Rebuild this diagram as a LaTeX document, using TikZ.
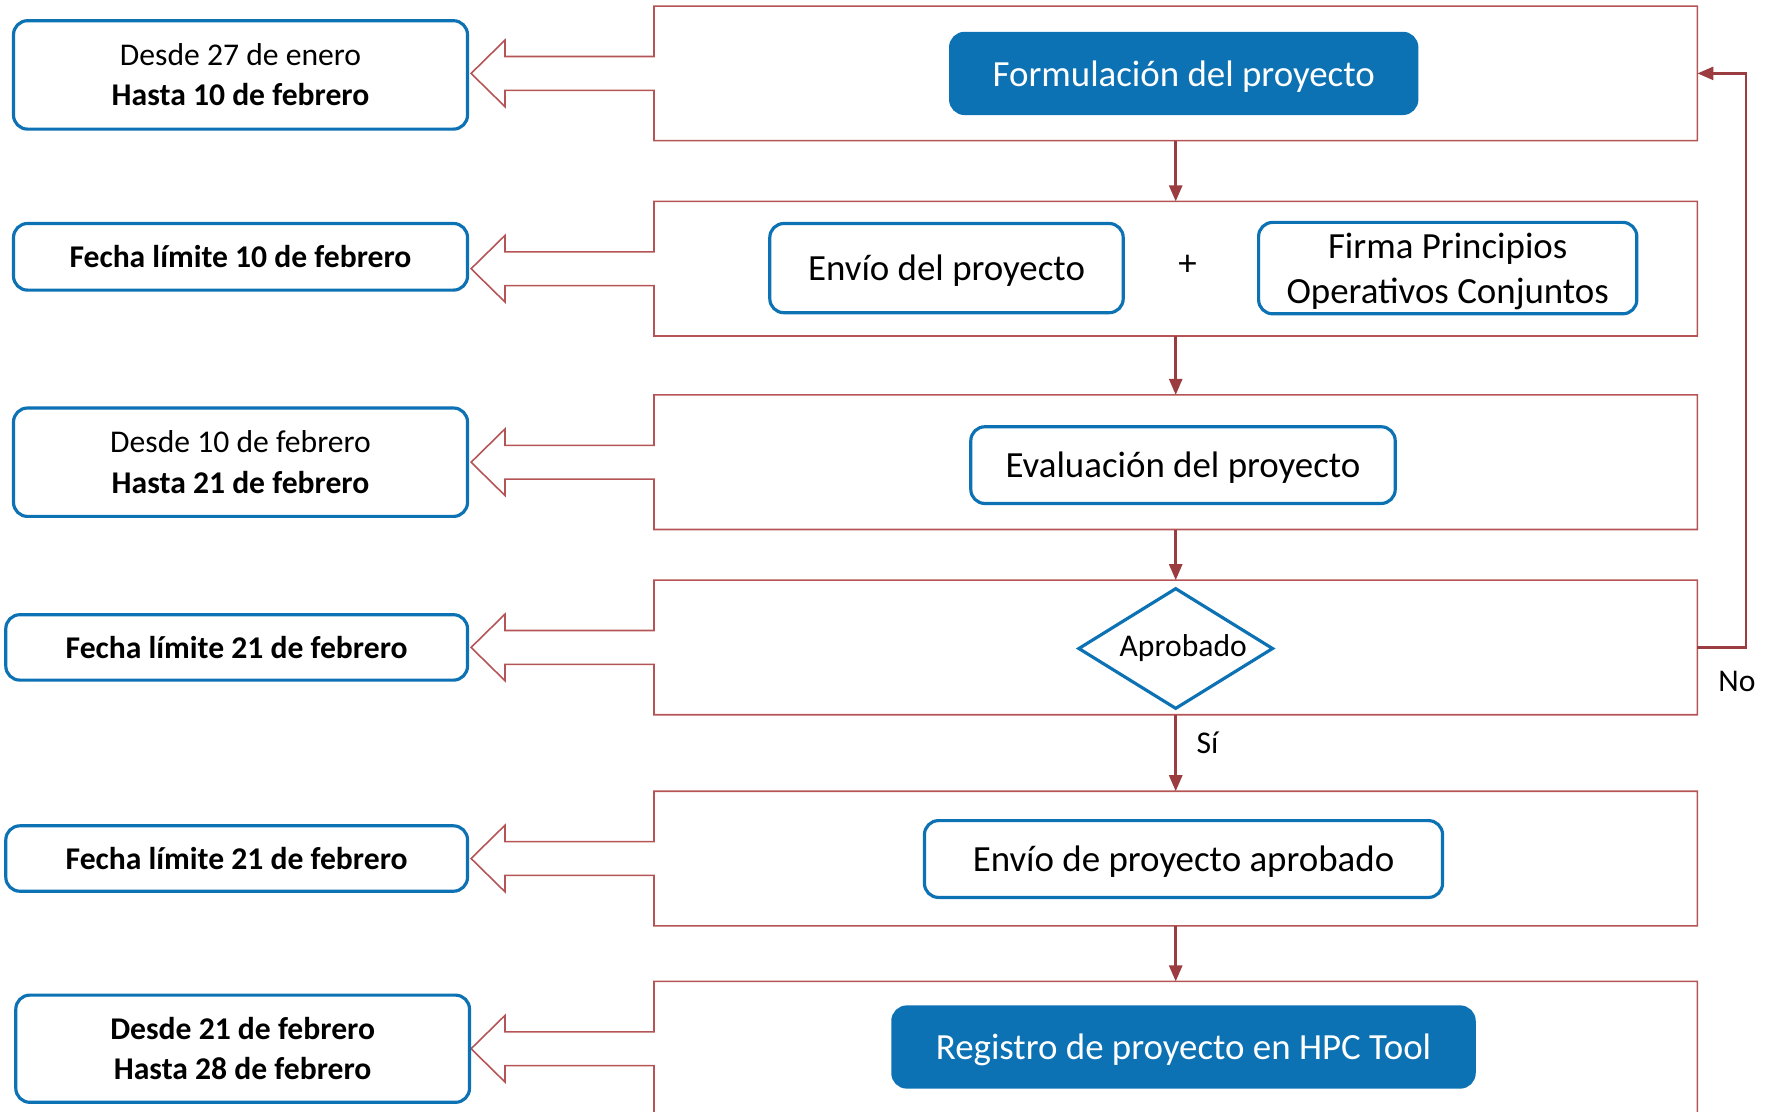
\documentclass[tikz,border=0pt]{standalone}
\usepackage{fontspec}
\setmainfont{Carlito}
\usepackage{tikz}
\usetikzlibrary{shapes.geometric, arrows.meta, positioning, calc}

\definecolor{procblue}{RGB}{12,114,180}
\definecolor{panelred}{RGB}{180,84,86}
\definecolor{flowred}{RGB}{155,60,64}

\begin{document}
\begin{tikzpicture}[
    panel/.style={rectangle, minimum width=10.42cm, minimum height=1.332cm, inner sep=0pt},
    panelline/.style={draw=panelred, line width=0.45pt},
    datebox/.style={draw=procblue, line width=0.9pt, rounded corners=0.14cm, fill=white, align=center, inner sep=2pt, font=\fontsize{9}{11.5}\selectfont},
    stepbox/.style={draw=procblue, line width=0.9pt, rounded corners=0.14cm, fill=white, align=center, inner sep=2pt, text depth=0pt, font=\fontsize{10.5}{12.8}\selectfont},
    stepfill/.style={stepbox, fill=procblue, text=white},
    decnode/.style={draw=procblue, line width=0.9pt, diamond, aspect=1.6, fill=white, inner sep=0pt, minimum width=1.95cm, minimum height=1.21cm, font=\fontsize{9}{11}\selectfont},
    flow_next/.style={-{Triangle[length=1.6mm, width=1.3mm]}, line width=0.75pt, flowred},
    flowlabel/.style={font=\fontsize{9}{11}\selectfont, text=black, inner sep=1pt}
]
    \useasboundingbox (0,0) rectangle (17.70,-11.11);

    \pgfmathsetmacro{\shafth}{0.169}
    \pgfmathsetmacro{\headh}{0.333}
    \pgfmathsetmacro{\headoff}{1.49}
    \pgfmathsetmacro{\tipoff}{1.829}

    % panels
    \node[panel] (p_Form) at (11.757, -0.734) {};
    \node[panel] (p_Envio) at (11.757, -2.687) {};
    \node[panel] (p_Eval) at (11.757, -4.622) {};
    \node[panel] (p_Aprob) at (11.757, -6.474) {};
    \node[panel] (p_EnvAp) at (11.757, -8.585) {};
    \node[panel] (p_Reg) at (11.757, -10.487) {};

    \coordinate (t_Form) at ($(p_Form.west) + (-\tipoff, 0)$);
    \draw[panelline] ($(p_Form.west)+(0,\shafth)$) |- (p_Form.north east) |- (p_Form.south west)
      -- ($(p_Form.west)+(0,-\shafth)$) -- ($(p_Form.west)+(-\headoff,-\shafth)$)
      -- ($(p_Form.west)+(-\headoff,-\headh)$) -- (t_Form)
      -- ($(p_Form.west)+(-\headoff,\headh)$) -- ($(p_Form.west)+(-\headoff,\shafth)$) -- cycle;

    \coordinate (t_Envio) at ($(p_Envio.west) + (-\tipoff, 0)$);
    \draw[panelline] ($(p_Envio.west)+(0,\shafth)$) |- (p_Envio.north east) |- (p_Envio.south west)
      -- ($(p_Envio.west)+(0,-\shafth)$) -- ($(p_Envio.west)+(-\headoff,-\shafth)$)
      -- ($(p_Envio.west)+(-\headoff,-\headh)$) -- (t_Envio)
      -- ($(p_Envio.west)+(-\headoff,\headh)$) -- ($(p_Envio.west)+(-\headoff,\shafth)$) -- cycle;

    \coordinate (t_Eval) at ($(p_Eval.west) + (-\tipoff, 0)$);
    \draw[panelline] ($(p_Eval.west)+(0,\shafth)$) |- (p_Eval.north east) |- (p_Eval.south west)
      -- ($(p_Eval.west)+(0,-\shafth)$) -- ($(p_Eval.west)+(-\headoff,-\shafth)$)
      -- ($(p_Eval.west)+(-\headoff,-\headh)$) -- (t_Eval)
      -- ($(p_Eval.west)+(-\headoff,\headh)$) -- ($(p_Eval.west)+(-\headoff,\shafth)$) -- cycle;

    \coordinate (t_Aprob) at ($(p_Aprob.west) + (-\tipoff, 0)$);
    \draw[panelline] ($(p_Aprob.west)+(0,\shafth)$) |- (p_Aprob.north east) |- (p_Aprob.south west)
      -- ($(p_Aprob.west)+(0,-\shafth)$) -- ($(p_Aprob.west)+(-\headoff,-\shafth)$)
      -- ($(p_Aprob.west)+(-\headoff,-\headh)$) -- (t_Aprob)
      -- ($(p_Aprob.west)+(-\headoff,\headh)$) -- ($(p_Aprob.west)+(-\headoff,\shafth)$) -- cycle;

    \coordinate (t_EnvAp) at ($(p_EnvAp.west) + (-\tipoff, 0)$);
    \draw[panelline] ($(p_EnvAp.west)+(0,\shafth)$) |- (p_EnvAp.north east) |- (p_EnvAp.south west)
      -- ($(p_EnvAp.west)+(0,-\shafth)$) -- ($(p_EnvAp.west)+(-\headoff,-\shafth)$)
      -- ($(p_EnvAp.west)+(-\headoff,-\headh)$) -- (t_EnvAp)
      -- ($(p_EnvAp.west)+(-\headoff,\headh)$) -- ($(p_EnvAp.west)+(-\headoff,\shafth)$) -- cycle;

    \coordinate (t_Reg) at ($(p_Reg.west) + (-\tipoff, 0)$);
    \draw[panelline] ($(p_Reg.west)+(0,\shafth)$) |- (p_Reg.north east) |- (p_Reg.south west)
      -- ($(p_Reg.west)+(0,-\shafth)$) -- ($(p_Reg.west)+(-\headoff,-\shafth)$)
      -- ($(p_Reg.west)+(-\headoff,-\headh)$) -- (t_Reg)
      -- ($(p_Reg.west)+(-\headoff,\headh)$) -- ($(p_Reg.west)+(-\headoff,\shafth)$) -- cycle;

    % dates
    \node[datebox, minimum width=4.54cm, minimum height=1.084cm, left=0.02cm of t_Form, yshift=-0.015cm] (d_Form)
      {Desde 27 de enero\\\textbf{Hasta 10 de febrero}};
    \node[datebox, minimum width=4.54cm, minimum height=0.666cm, left=0.02cm of t_Envio, yshift=0.119cm] (d_Envio)
      {\textbf{Fecha límite 10 de febrero}};
    \node[datebox, minimum width=4.54cm, minimum height=1.084cm, left=0.02cm of t_Eval] (d_Eval)
      {Desde 10 de febrero\\\textbf{Hasta 21 de febrero}};
    \node[datebox, minimum width=4.617cm, minimum height=0.654cm, left=0.02cm of t_Aprob] (d_Aprob)
      {\textbf{Fecha límite 21 de febrero}};
    \node[datebox, minimum width=4.617cm, minimum height=0.654cm, left=0.02cm of t_EnvAp] (d_EnvAp)
      {\textbf{Fecha límite 21 de febrero}};
    \node[datebox, minimum width=4.537cm, minimum height=1.072cm, left=0pt of t_Reg] (d_Reg)
      {\textbf{Desde 21 de febrero}\\\textbf{Hasta 28 de febrero}};

    % steps
    \node[stepfill, minimum width=4.662cm, minimum height=0.801cm] (s_Form)
      at ($(p_Form) + (0.08, 0)$) {Formulación del proyecto};
    \node[stepbox, minimum width=3.534cm, minimum height=0.892cm] (s_Envio)
      at ($(p_Envio) + (-2.292, 0.006)$) {Envío del proyecto};
    \node[font=\fontsize{10.5}{12.8}\selectfont] (s_Plus) at ($(p_Envio) + (0.118, 0.034)$) {+};
    \node[stepbox, minimum width=3.782cm, minimum height=0.914cm] (s_Firma)
      at ($(p_Envio) + (2.72, 0.006)$) {Firma Principios\\Operativos Conjuntos};
    \node[stepbox, minimum width=4.244cm, minimum height=0.767cm] (s_Eval)
      at ($(p_Eval) + (0.073, -0.029)$) {Evaluación del proyecto};
    \node[decnode] (s_Aprob) at ($(p_Aprob) + (0, -0.011)$) {\hspace{0.15cm}Aprobado};
    \node[stepbox, minimum width=5.181cm, minimum height=0.768cm] (s_EnvAp)
      at ($(p_EnvAp) + (0.078, -0.005)$) {Envío de proyecto aprobado};
    \node[stepfill, minimum width=5.813cm, minimum height=0.801cm] (s_Reg)
      at ($(p_Reg) + (0.078, 0.017)$) {Registro de proyecto en HPC Tool};

    % flow
    \draw[flow_next] (p_Form.south) -- (p_Envio.north);
    \draw[flow_next] (p_Envio.south) -- (p_Eval.north);
    \draw[flow_next] (p_Eval.south) -- (p_Aprob.north);
    \draw[flow_next] (p_Aprob.south) -- (p_EnvAp.north)
      node[flowlabel, pos=0.37, right=0.16cm]{Sí};
    \draw[flow_next] (p_EnvAp.south) -- (p_Reg.north);

    \coordinate (noturn) at ($(p_Aprob.east) + (0.485, 0)$);
    \draw[flow_next] (p_Aprob.east) -- (noturn) |- (p_Form.east);
    \node[flowlabel] (l_No) at ($(noturn) + (-0.09, -0.345)$) {No};
\end{tikzpicture}
\end{document}
